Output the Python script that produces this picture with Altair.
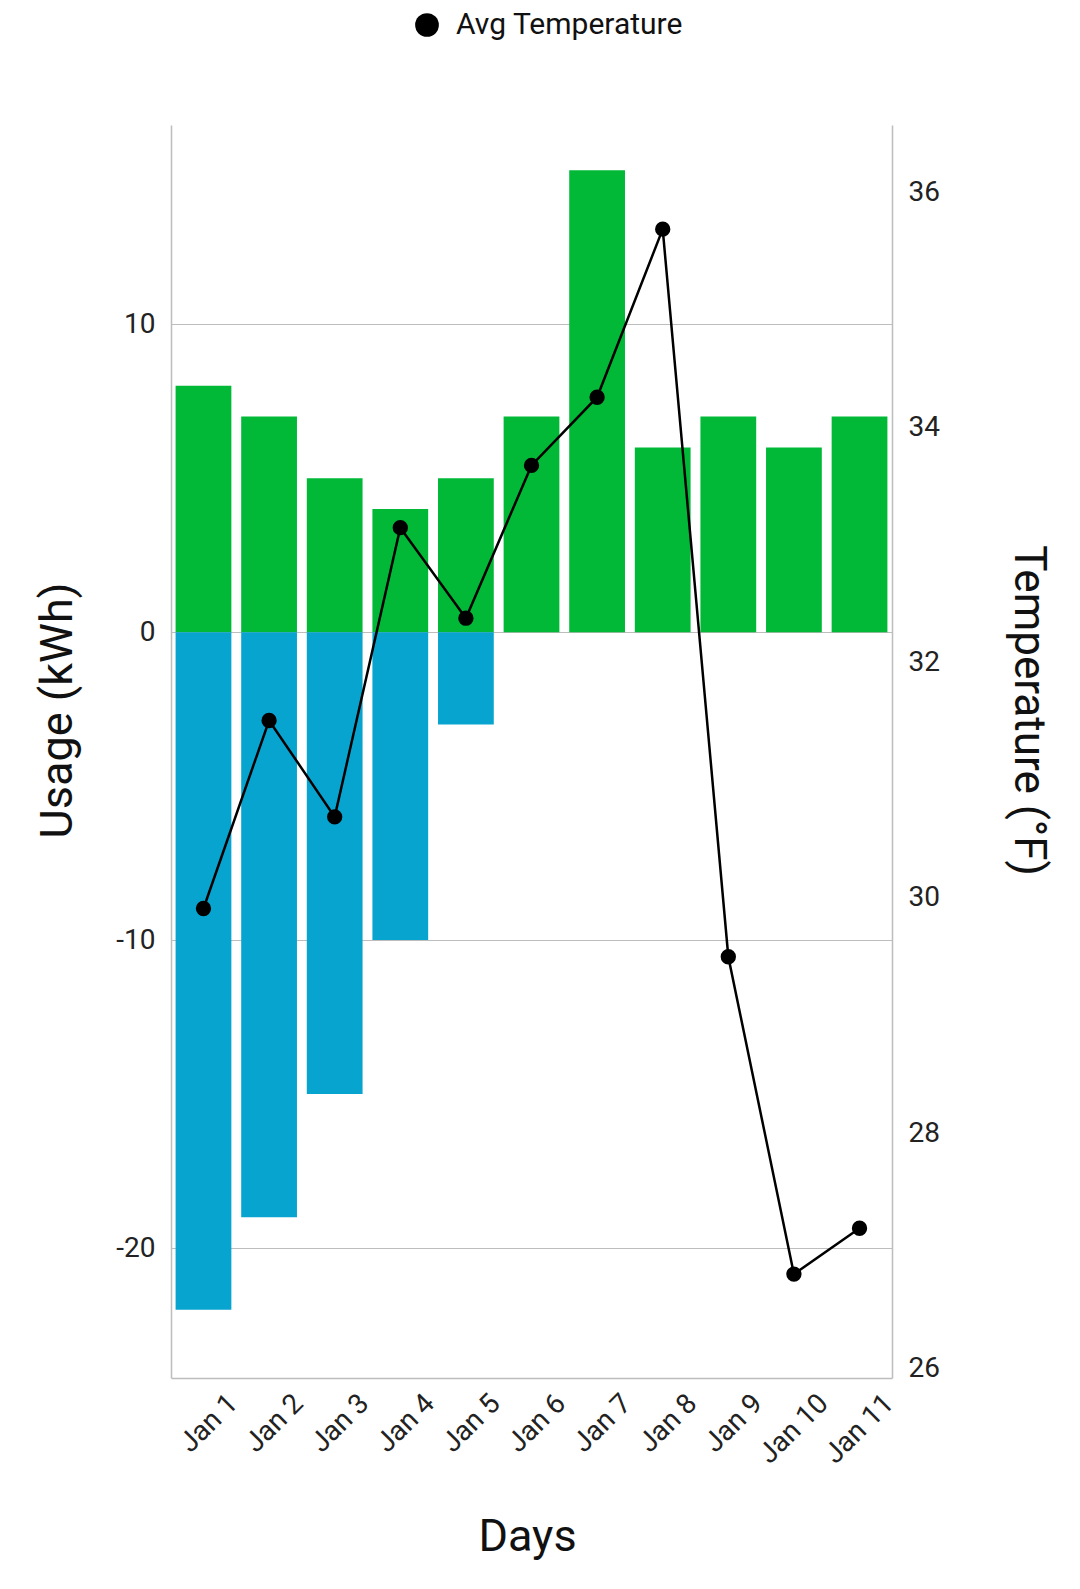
import altair as alt
import pandas as pd

days = ["Jan 1", "Jan 2", "Jan 3", "Jan 4", "Jan 5", "Jan 6",
        "Jan 7", "Jan 8", "Jan 9", "Jan 10", "Jan 11"]
usage_pos = [8, 7, 5, 4, 5, 7, 15, 6, 7, 6, 7]
usage_neg = [-22, -19, -15, -10, -3, 0, 0, 0, 0, 0, 0]
avg_temp = [29.91, 31.51, 30.69, 33.15, 32.38, 33.68, 34.26, 35.69, 29.5, 26.8, 27.19]
usage_ticks = [-20, -10, 0, 10]
temp_ticks = [26, 28, 30, 32, 34, 36]

GREEN = "#01B937"
BLUE = "#08A4D0"
FONT = "Roboto"

rows = []
for d, p, n in zip(days, usage_pos, usage_neg):
    if p != 0:
        rows.append({"day": d, "usage": p})
    if n != 0:
        rows.append({"day": d, "usage": n})
bars_df = pd.DataFrame(rows)
temp_df = pd.DataFrame({"day": days, "temp": avg_temp, "series": ["Avg Temperature"] * len(days)})

x_enc = alt.X(
    "day:N", sort=days,
    scale=alt.Scale(paddingInner=0.15, paddingOuter=0.07),
    axis=alt.Axis(
        title="Days", labelAngle=-45, labelAlign="right", labelBaseline="middle",
        labelPadding=21, labelOffset=30, ticks=False, tickSize=0,
        grid=False, titlePadding=46, titleX=356, labelFontSize=28, titleFontSize=45,
    ),
)

bars = alt.Chart(bars_df).mark_bar().encode(
    x=x_enc,
    y=alt.Y(
        "usage:Q",
        scale=alt.Scale(domain=[-24.22, 16.47], nice=False, zero=False),
        axis=alt.Axis(
            title="Usage (kWh)", values=usage_ticks, grid=True, ticks=False, tickSize=0,
            labelExpr="'' + datum.value",
            labelPadding=16, titlePadding=35, titleY=585,
            labelFontSize=28, titleFontSize=45,
        ),
    ),
    y2=alt.datum(0),
    color=alt.condition(alt.datum.usage > 0, alt.value(GREEN), alt.value(BLUE)),
)

temp_axis = alt.Axis(
    title="Temperature (°F)", orient="right", values=temp_ticks, grid=False,
    ticks=False, tickSize=0, labelPadding=16, titlePadding=66, titleY=585,
    labelFontSize=28, titleFontSize=44,
)
temp_scale = alt.Scale(domain=[25.916, 36.576], nice=False, zero=False)

line = alt.Chart(temp_df).mark_line(color="black", strokeWidth=2.5).encode(
    x=alt.X("day:N", sort=days),
    y=alt.Y("temp:Q", scale=temp_scale, axis=temp_axis),
)
points = alt.Chart(temp_df).mark_point(filled=True, size=235, opacity=1).encode(
    x=alt.X("day:N", sort=days),
    y=alt.Y("temp:Q", scale=temp_scale, axis=temp_axis),
    color=alt.Color(
        "series:N",
        scale=alt.Scale(domain=["Avg Temperature"], range=["black"]),
        legend=alt.Legend(
            title=None, orient="none", legendX=241, legendY=-115,
            symbolType="circle", symbolSize=562, labelFontSize=30,
            labelOffset=14, padding=0, labelColor="#111", labelLimit=500,
        ),
    ),
)

temp_layer = alt.layer(line, points)

chart = alt.layer(bars, temp_layer).resolve_scale(y="independent").properties(
    width=721, height=1253,
    autosize=alt.AutoSizeParams(type="none"),
    padding={"left": 163, "top": 117, "right": 180, "bottom": 200},
).configure_view(stroke=None).configure_axis(
    labelFont=FONT, titleFont=FONT, labelColor="#222", titleColor="#111",
    domainColor="#BDBDBD", domainWidth=1.5, gridColor="#BDBDBD", gridWidth=1.2,
    titleFontWeight="normal",
).configure_legend(labelFont=FONT)

chart.save("out.html", embed_options={"renderer": "svg", "actions": False})
